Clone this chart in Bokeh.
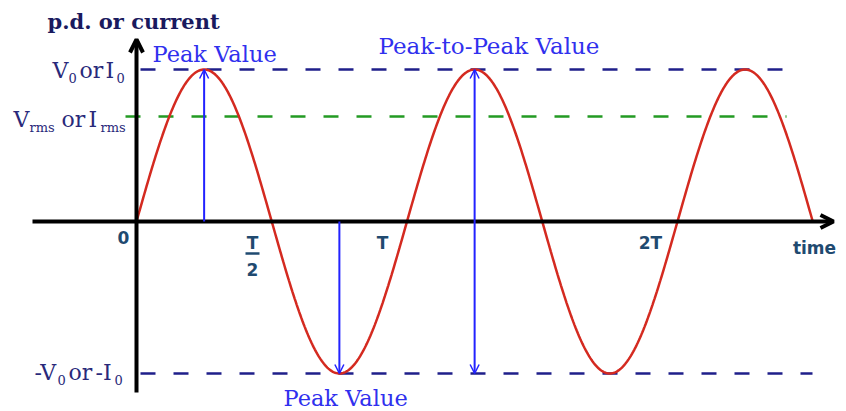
import numpy as np
from bokeh.plotting import figure
from bokeh.models import Range1d, Arrow, OpenHead
from bokeh.core.properties import value
from bokeh.embed import file_html
from bokeh.resources import INLINE

# ---------------- data ----------------
PERIOD = 1.0            # T
AMPLITUDE = 1.0         # V0 or I0
RMS_LEVEL = 0.69        # Vrms / V0 as drawn
N_CYCLES = 2.5
PEAK_TIMES = [0.25, 0.75, 1.25]          # where the blue arrows sit
tick_values = [0.0, 0.5, 1.0, 2.0]
tick_labels = ["0", "T/2", "T", "2T"]
level_values = [AMPLITUDE, RMS_LEVEL, -AMPLITUDE]

# ---------------- layout (picture pixels) ----------------
W, H = 846, 411
PX_PER_T = 270.5        # pixels per period
PX_PER_V = 152.0        # pixels per unit amplitude
ORIGIN_PX = (136, 221)  # picture position of t=0, v=0


def X(px):
    return (px - ORIGIN_PX[0]) / PX_PER_T


def Y(py):
    return (ORIGIN_PX[1] - py) / PX_PER_V


p = figure(width=W, height=H, output_backend="svg", toolbar_location=None,
           x_axis_type=None, y_axis_type=None, min_border=0,
           x_range=Range1d(X(0), X(W)), y_range=Range1d(Y(H), Y(0)))
p.grid.visible = False
p.outline_line_color = None
p.background_fill_color = "white"
p.border_fill_color = "white"

NAVY = "#1f1f8a"
GREEN = "#239a23"
RED = "#d42a20"
BLUE = "#2222ff"
LABEL = "#29297a"
TICK = "#1f4a70"
SERIF = value("DejaVu Serif")
SANS = value("DejaVu Sans")

# dashed reference levels
dash = "15 18"
p.line([X(140), X(787)], [level_values[0]] * 2, line_color=NAVY, line_width=2.5, line_dash=dash)
p.line([X(125), X(786)], [level_values[1]] * 2, line_color=GREEN, line_width=2.5, line_dash=dash)
p.line([X(140), X(812)], [level_values[2]] * 2, line_color=NAVY, line_width=2.5, line_dash=dash)

# sine wave
t = np.linspace(0, N_CYCLES * PERIOD, 600)
v = AMPLITUDE * np.sin(2 * np.pi * t / PERIOD)
p.line(t, v, line_color=RED, line_width=2.5)

# axes with arrow heads
p.add_layout(Arrow(x_start=X(32), y_start=0, x_end=X(833), y_end=0,
                   line_width=4, line_color="black",
                   end=OpenHead(size=13, line_width=4, line_color="black")))
p.add_layout(Arrow(x_start=0, y_start=Y(392), x_end=0, y_end=Y(39),
                   line_width=4, line_color="black",
                   end=OpenHead(size=13, line_width=4, line_color="black")))

# blue peak arrows
p.add_layout(Arrow(x_start=PEAK_TIMES[0], y_start=0, x_end=PEAK_TIMES[0], y_end=AMPLITUDE,
                   line_width=2, line_color=BLUE,
                   end=OpenHead(size=9, line_width=1.5, line_color=BLUE)))
p.add_layout(Arrow(x_start=PEAK_TIMES[1], y_start=0, x_end=PEAK_TIMES[1], y_end=-AMPLITUDE,
                   line_width=2, line_color=BLUE,
                   end=OpenHead(size=9, line_width=1.5, line_color=BLUE)))
p.add_layout(Arrow(x_start=PEAK_TIMES[2], y_start=-AMPLITUDE, x_end=PEAK_TIMES[2], y_end=AMPLITUDE,
                   line_width=2, line_color=BLUE,
                   start=OpenHead(size=9, line_width=1.5, line_color=BLUE),
                   end=OpenHead(size=9, line_width=1.5, line_color=BLUE)))

# title (positions are the vertical middle of the text)
p.text([X(47)], [Y(21)], text=["p.d. or current"], text_font=SERIF, text_font_size="21px",
       text_font_style="bold", text_color="#1a1a5e", text_baseline="middle", text_align="left")

# peak labels
p.text([X(152), X(283)], [Y(53), Y(397)], text=["Peak Value", "Peak Value"],
       text_font=SERIF, text_font_size="22.5px", text_color="#3030ee",
       text_baseline="middle", text_align="left")
p.text([X(378)], [Y(45)], text=["Peak-to-Peak Value"],
       text_font=SERIF, text_font_size="23px", text_color="#3030ee",
       text_baseline="middle", text_align="left")

# level labels, built from pieces (main size / subscript size)
pieces = [
    # text, left px, middle px, is_sub
    ("V", 52, 70, False), ("0", 68, 77.5, True), ("or", 79, 70, False),
    ("I", 105, 70, False), ("0", 116, 77.5, True),
    ("V", 13, 119, False), ("rms", 29, 127, True), ("or", 61, 119, False),
    ("I", 88, 119, False), ("rms", 100, 127, True),
    ("-V", 34, 372, False), ("0", 57, 379.5, True), ("or", 68, 372, False),
    ("-I", 95, 372, False), ("0", 114, 379.5, True),
]
main = [pc for pc in pieces if not pc[3]]
subs = [pc for pc in pieces if pc[3]]
p.text([X(pc[1]) for pc in main], [Y(pc[2]) for pc in main], text=[pc[0] for pc in main],
       text_font=SERIF, text_font_size="22px", text_color=LABEL,
       text_baseline="middle", text_align="left")
p.text([X(pc[1]) for pc in subs], [Y(pc[2]) for pc in subs], text=[pc[0] for pc in subs],
       text_font=SERIF, text_font_size="13px", text_color=LABEL,
       text_baseline="middle", text_align="left")

# time tick labels
tick_pos = {"0": (123, 237), "T": (382, 242), "2T": (650, 242)}
simple = [lab for lab in tick_labels if lab in tick_pos]
p.text([X(tick_pos[l][0]) for l in simple], [Y(tick_pos[l][1]) for l in simple], text=simple,
       text_font=SANS, text_font_size="17px", text_font_style="bold", text_color=TICK,
       text_baseline="middle", text_align="center")
# T/2 as a stacked fraction
p.text([X(252), X(252)], [Y(242), Y(269)], text=["T", "2"],
       text_font=SANS, text_font_size="17px", text_font_style="bold", text_color=TICK,
       text_baseline="middle", text_align="center")
p.segment([X(245)], [Y(253)], [X(259)], [Y(253)], line_color=TICK, line_width=2.5)
# axis name
p.text([X(814)], [Y(247)], text=["time"], text_font=SANS, text_font_size="17px",
       text_font_style="bold", text_color=TICK, text_baseline="middle", text_align="center")

open("out.html", "w").write(file_html(p, INLINE))
